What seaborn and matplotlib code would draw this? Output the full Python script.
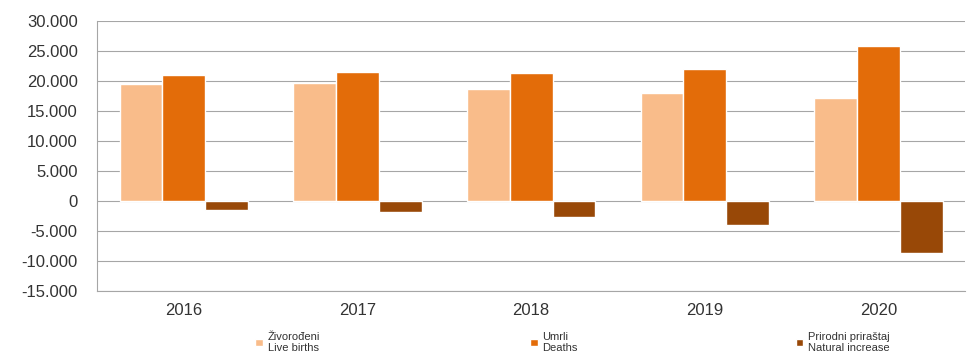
import pandas as pd
import matplotlib.pyplot as plt
import matplotlib.ticker as mticker
import seaborn as sns

years = ['2016', '2017', '2018', '2019', '2020']
live_births = [19500, 19700, 18700, 18000, 17200]
deaths = [21000, 21500, 21300, 22000, 25800]
natural_increase = [-1500, -1800, -2600, -4000, -8600]
series_labels = ['Živorođeni\nLive births', 'Umrli\nDeaths', 'Prirodni priraštaj\nNatural increase']
colors = ['#F9BC8A', '#E36C09', '#984807']

df = pd.DataFrame({
    'year': years * 3,
    'value': live_births + deaths + natural_increase,
    'series': [series_labels[0]] * 5 + [series_labels[1]] * 5 + [series_labels[2]] * 5,
})

sns.set_theme(style="white")
plt.rcParams['font.family'] = ['Liberation Sans', 'DejaVu Sans']

fig, ax = plt.subplots(figsize=(9.75, 3.54), dpi=100)
fig.subplots_adjust(left=0.0995, right=0.99, top=0.94, bottom=0.178)

sns.barplot(ax=ax, data=df, x='year', y='value', hue='series', palette=colors,
            width=0.74, edgecolor='white', linewidth=1.0, saturation=1)

ax.set_ylim(-15000, 30000)
ax.set_yticks(range(-15000, 30001, 5000))
ax.yaxis.set_major_formatter(mticker.FuncFormatter(lambda v, p: f'{int(v):,}'.replace(',', '.')))
ax.grid(axis='y', color='#a6a6a6', linewidth=0.8)
ax.set_axisbelow(True)
ax.set_xlim(-0.5, 4.5)
for s in ['top', 'right']:
    ax.spines[s].set_visible(False)
ax.spines['bottom'].set_color('#a6a6a6')
ax.spines['bottom'].set_linewidth(0.8)
ax.spines['left'].set_color('#a6a6a6')
ax.spines['left'].set_linewidth(0.8)
ax.set_xlabel('')
ax.set_ylabel('')
ax.tick_params(axis='y', labelsize=12, colors='#333333', left=False, pad=8)
ax.tick_params(axis='x', labelsize=12, colors='#333333', bottom=False, pad=3)

handles, labels = ax.get_legend_handles_labels()
ax.get_legend().remove()
legend_x = [0.262, 0.544, 0.816]
for h, lab, lx in zip(handles, labels, legend_x):
    fig.legend([h], [lab], loc='center left', bbox_to_anchor=(lx, 0.033),
               frameon=False, fontsize=8, handlelength=0.7, handleheight=0.5,
               handletextpad=0.4, borderpad=0, borderaxespad=0, labelcolor='#333333')

plt.savefig('out.png', dpi=100)
